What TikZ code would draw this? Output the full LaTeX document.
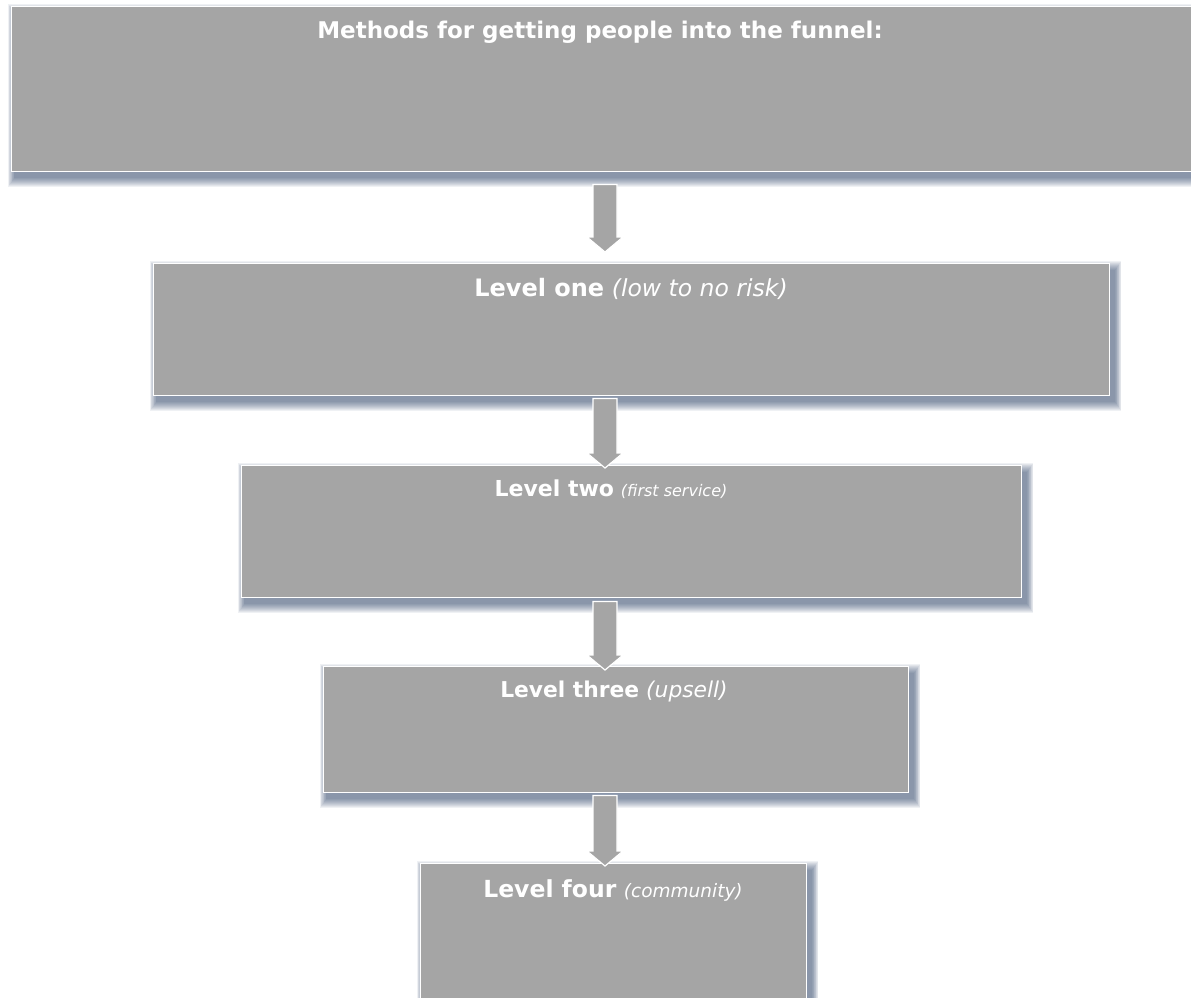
\documentclass[tikz,border=0pt]{standalone}
\usepackage{fontspec}
\setmainfont{DejaVu Sans}
\usetikzlibrary{calc,backgrounds}

\definecolor{grigio}{RGB}{165,165,165}
\definecolor{ombra}{RGB}{20,45,85}

\begin{document}
\begin{tikzpicture}[x=1pt, y=-1pt,
	livello/.style = {rectangle, fill=grigio, draw=white, line width=1.4pt,
		inner sep=0pt, anchor=north west},
	freccia/.style = {fill=grigio, draw=white, line width=1.2pt, line join=miter},
	testo/.style   = {text=white, anchor=base, inner sep=0pt},
	]
	
	%% ── Parametri geometrici (px) ────────────────────────────────────────────
	\def\sw{12pt}    % semi-larghezza gambo freccia
	\def\hw{18pt}    % semi-larghezza punta
	\def\hl{15pt}    % lunghezza punta
	\def\big{\fontsize{23}{27}\selectfont}
	
	\useasboundingbox (0,0) rectangle (1191,997);
	\coordinate (asse) at (605,0);
	
	%% ── Riquadri ─────────────────────────────────────────────────────────────
	\node[livello, minimum width=1200, minimum height=165] (methods)  at (11,6) {};
	\node[livello, minimum width=956,  minimum height=132] (lvlone)   at (153,263) {};
	\node[livello, minimum width=780,  minimum height=132] (lvltwo)   at (241,465) {};
	\node[livello, minimum width=585,  minimum height=126] (lvlthree) at (323,666) {};
	\node[livello, minimum width=386,  minimum height=150] (lvlfour)  at (420,863) {};
	
	%% ── Ombre sfumate ────────────────────────────────────────────────────────
	\begin{scope}[on background layer]
		\foreach \b in {methods,lvlone,lvltwo,lvlthree,lvlfour}
		\foreach \r in {1,...,10}
		\fill[ombra, opacity=0.065]
		($(\b.south west)+(4-0.7*\r,5+\r)$) rectangle ($(\b.north east)+(4+0.7*\r,8-\r)$);
	\end{scope}
	
	%% ── Frecce ───────────────────────────────────────────────────────────────
	\foreach \a/\b/\ga/\gb in {methods/lvlone/12/-11, lvlone/lvltwo/2/3,
		lvltwo/lvlthree/3/4, lvlthree/lvlfour/2/3}
	\filldraw[freccia]
	let \p1=($(\a.south -| asse)+(0,\ga)$), \p2=($(\b.north -| asse)+(0,\gb)$) in
	(\x1-\sw,\y1) -- (\x1+\sw,\y1) -- (\x1+\sw,\y2+\hl) -- (\x1+\hw,\y2+\hl)
	-- (\x1,\y2) -- (\x1-\hw,\y2+\hl) -- (\x1-\sw,\y2+\hl) -- cycle;
	
	%% ── Testi ────────────────────────────────────────────────────────────────
	\node[testo] (tmethods) at (600,38)
	{\big\bfseries Methods for getting people into the funnel:};
	\node[testo] (tlvlone) at (631,296)
	{\fontsize{24}{28}\selectfont\textbf{Level one} \fontsize{23.5}{27}\selectfont\textit{(low to no risk)}};
	\node[testo] (tlvltwo) at (611,496)
	{\fontsize{22}{26}\selectfont\textbf{Level two} \fontsize{16}{20}\selectfont\textit{(first service)}};
	\node[testo] (tlvlthree) at (614,697)
	{\fontsize{21.8}{25}\selectfont\textbf{Level three} \textit{(upsell)}};
	\node[testo] (tlvlfour) at (613,897)
	{\fontsize{23.5}{27}\selectfont\textbf{Level four} \fontsize{18.5}{22}\selectfont\textit{(community)}};
	
\end{tikzpicture}
\end{document}
